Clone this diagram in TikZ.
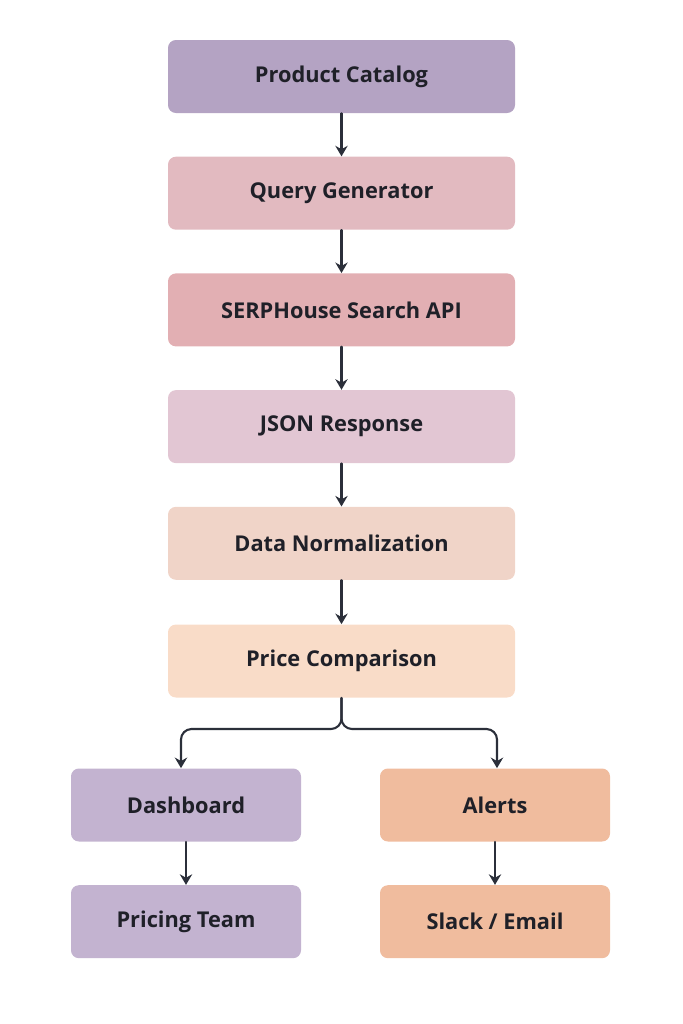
\documentclass[tikz,border=0pt]{standalone}
\usepackage{fontspec}
\setmainfont{Open Sans}
\usepackage{tikz}
\usetikzlibrary{arrows.meta,positioning}
\definecolor{pfLavender}{HTML}{B4A3C3}
\definecolor{pfRose}{HTML}{E2BAC0}
\definecolor{pfCoral}{HTML}{E2AFB3}
\definecolor{pfMauve}{HTML}{E2C6D3}
\definecolor{pfPeach}{HTML}{F0D4C8}
\definecolor{pfCream}{HTML}{F9DCC8}
\definecolor{pfLilac}{HTML}{C3B3D0}
\definecolor{pfApricot}{HTML}{F0BC9E}
\definecolor{pfInk}{HTML}{2B2F3A}
\definecolor{pfText}{HTML}{1F2028}

\begin{document}
\begin{tikzpicture}[>=Stealth, line cap=round, line join=round,
    font=\fontsize{12.4}{15}\selectfont\bfseries,
    stage/.style={rounded corners=4.5pt, text=pfText, align=center,
                  minimum width=6.94cm, minimum height=1.46cm},
    sink/.style={stage, minimum width=4.6cm},
    flow/.style={pfInk, line width=1.2pt, ->, >={Stealth[length=6pt,width=7pt]}}]
    \useasboundingbox (0,0) rectangle (13.66,-20.48);

    % ── main pipeline ─────────────────────────────────────────────────────
    \node[stage, fill=pfLavender] (catalog) at (6.83,-1.53) {Product Catalog};
    \node[stage, fill=pfRose,  below=0.86cm of catalog] (query) {Query Generator};
    \node[stage, fill=pfCoral, below=0.86cm of query]   (serp)  {SERPHouse Search API};
    \node[stage, fill=pfMauve, below=0.86cm of serp]    (json)  {JSON Response};
    \node[stage, fill=pfPeach, below=0.86cm of json]    (norm)  {Data Normalization};
    \node[stage, fill=pfCream, below=0.88cm of norm]    (compare) {Price Comparison};

    \draw[flow] (catalog) -- (query);
    \draw[flow] (query) -- (serp);
    \draw[flow] (serp) -- (json);
    \draw[flow] (json) -- (norm);
    \draw[flow] (norm) -- (compare);

    % ── two outputs ───────────────────────────────────────────────────────
    \node[sink, fill=pfLilac]   (dash)   at (3.72,-16.1) {Dashboard};
    \node[sink, fill=pfApricot] (alerts) at (9.9,-16.1)  {Alerts};
    \node[sink, fill=pfLilac,   below=0.86cm of dash]   (team)  {Pricing Team};
    \node[sink, fill=pfApricot, below=0.86cm of alerts] (notify) {Slack / Email};

    % split below the comparison step
    \coordinate (split) at (6.83,-14.58);
    \draw[flow, rounded corners=6pt] (compare.south) |- ([xshift=-0.1cm]dash.north |- split) -- ([xshift=-0.1cm]dash.north);
    \draw[flow, rounded corners=6pt] (compare.south) |- ([xshift=0.04cm]alerts.north |- split) -- ([xshift=0.04cm]alerts.north);

    \draw[flow] (dash) -- (team);
    \draw[flow] (alerts) -- (notify);
\end{tikzpicture}
\end{document}
